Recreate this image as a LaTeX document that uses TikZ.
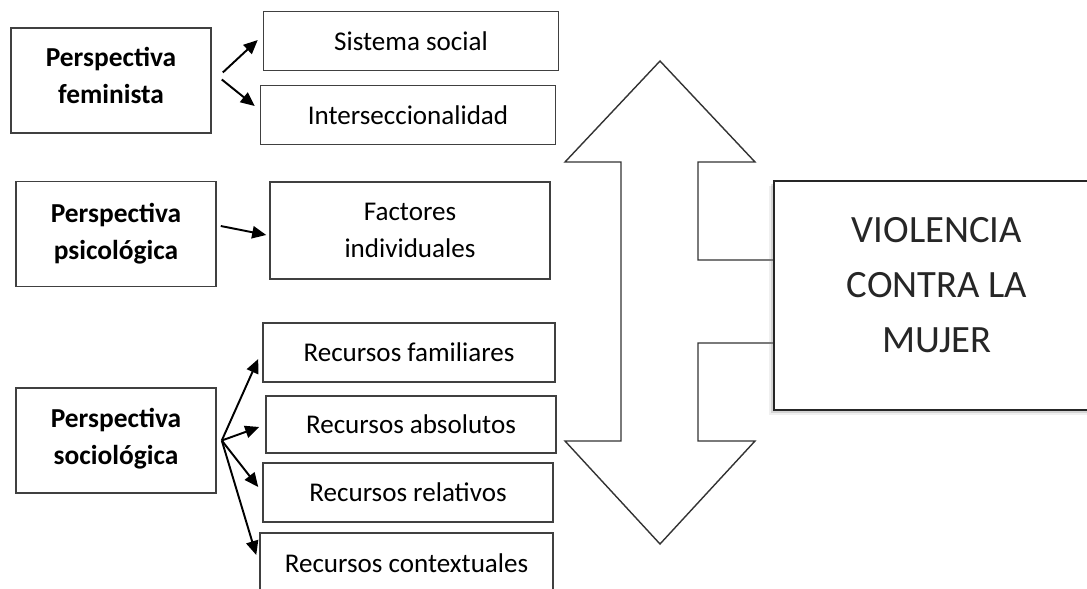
\documentclass[tikz,border=0pt]{standalone}
\usepackage{fontspec}
\setmainfont{Carlito}
\usetikzlibrary{arrows.meta,calc,shadows}
\begin{document}
\begin{tikzpicture}[x = .02cm, y = -.02cm,
    persp/.style = {draw = black!75, line width = .9pt, align = center, font = \fontsize{15.6}{21}\selectfont\bfseries, minimum width = 4cm, minimum height = 2.1cm},
    item/.style = {draw = black!75, line width = .9pt, align = center, font = \fontsize{15.4}{21}\selectfont, minimum width = 5.9cm, minimum height = 1.18cm},
    arr/.style = {line width = 1.1pt, -{Triangle[length = 8pt, width = 7pt]}},
    bigarrow/.style = {draw = black!80, line width = .8pt},
    vbox/.style = {draw = black!85, line width = 1.6pt, fill = white, minimum width = 6.6cm, minimum height = 4.58cm,
      drop shadow = {shadow xshift = -3pt, shadow yshift = -3pt, opacity = .12},
      drop shadow = {shadow xshift = -1.5pt, shadow yshift = -1.5pt, opacity = .25}}]
  \useasboundingbox (0,0) rectangle (1087,588);
  \clip (0,0) rectangle (1087,588);
  \node [persp] (pf) at (111,80.5) {Perspectiva\\feminista\rule[-6pt]{0pt}{0pt}};
  \node [persp] (pp) at (116,234) {Perspectiva\\psicológica\rule[-3pt]{0pt}{0pt}};
  \node [persp] (ps) at (116,440.5) {Perspectiva\\sociológica\rule[-5pt]{0pt}{0pt}};
  \node [item] (ss) at (411,41) {Sistema social};
  \node [item] (inter) at (408,115) {Interseccionalidad};
  \node [item, minimum width = 5.6cm, minimum height = 1.94cm] (fi) at (410,230.5) {Factores\\individuales};
  \node [item, minimum width = 5.84cm] (rf) at (409,352.5) {Recursos familiares};
  \node [item, minimum width = 5.8cm, minimum height = 1.14cm] (ra) at (411,424.5) {Recursos absolutos};
  \node [item, minimum width = 5.8cm] (rr) at (408,492.5) {Recursos relativos};
  \node [item, minimum width = 5.86cm, minimum height = 1.2cm] (rc) at (406.5,563) {Recursos contextuales};
  \draw [arr] ($(pf.east)+(11,-8)$) -- ($(ss.west)+(-5,-1)$);
  \draw [arr] ($(pf.east)+(10,-1)$) -- ($(inter.west)+(-5,-9)$);
  \draw [arr] ($(pp.east)+(4,-8)$) -- ($(fi.west)+(-3,4.5)$);
  \coordinate (fan) at ($(ps.east)+(5,0)$);
  \draw [arr] (fan) -- ($(rf.west)+(-4,6.5)$);
  \draw [arr] (fan) -- ($(ra.west)+(-6,2.5)$);
  \draw [arr] (fan) -- ($(rr.west)+(-4,-5.5)$);
  \draw [arr] (fan) -- ($(rc.west)+(-3,-8)$);
  \draw [bigarrow] (774,343) -- (698,343) -- (698,441) -- (755,441) -- (660,544) -- (565,441) -- (621,441)
    -- (621,162) -- (565,162) -- (660,61) -- (755,162) -- (698,162) -- (698,260) -- (774,260);
  \node [vbox] (vcm) at (939,295.5) {};
  \node [align = center, text = black!85, font = \fontsize{22}{31.5}\selectfont] (vcmtext) at (937,285) {VIOLENCIA\\CONTRA LA\\MUJER};
\end{tikzpicture}
\end{document}
